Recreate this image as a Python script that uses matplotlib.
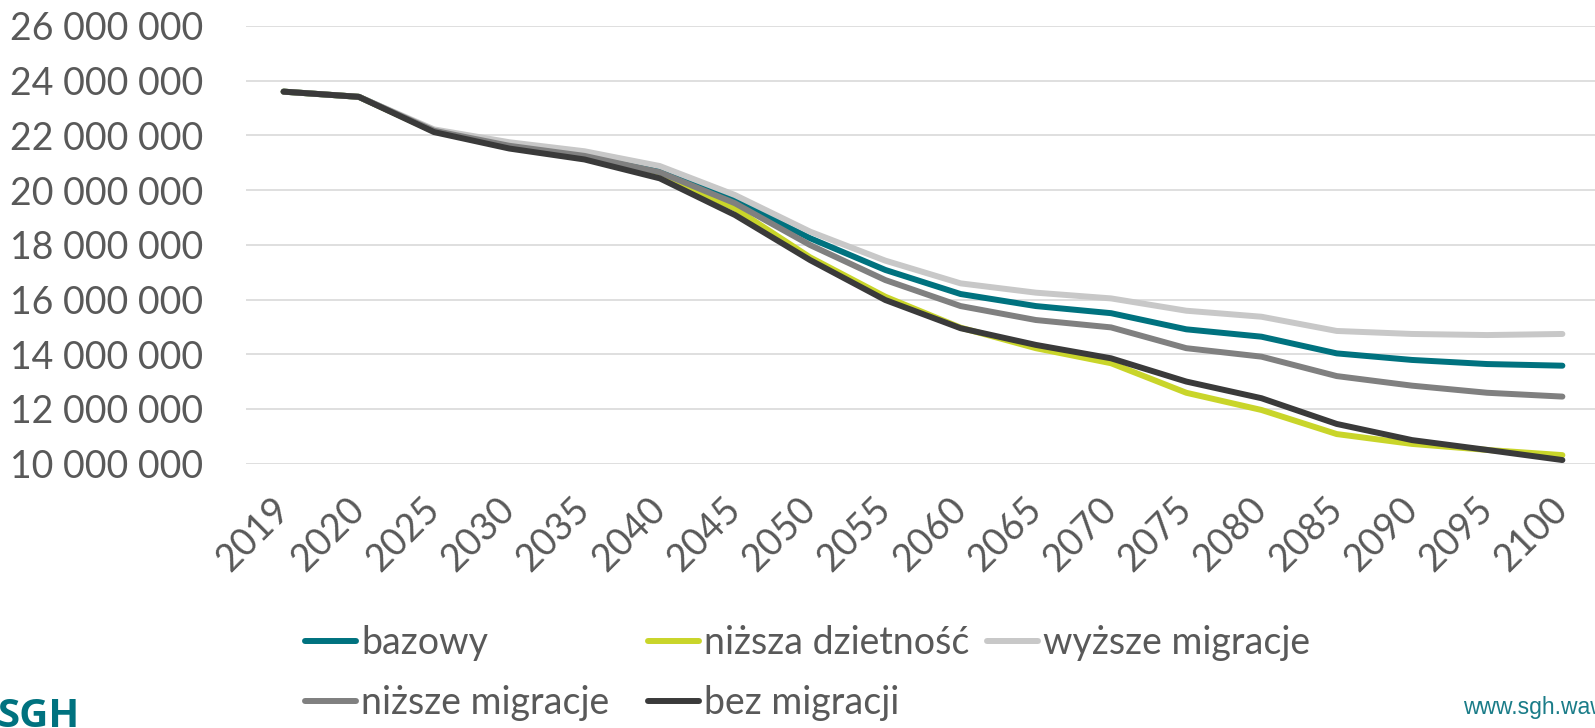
import numpy as np
import matplotlib
matplotlib.use("Agg")
import matplotlib.pyplot as plt
from matplotlib.ticker import FuncFormatter

plt.rcParams['font.family'] = ['Lato', 'DejaVu Sans']

years = ["2019", "2020", "2025", "2030", "2035", "2040", "2045", "2050", "2055",
         "2060", "2065", "2070", "2075", "2080", "2085", "2090", "2095", "2100"]

# ludnosc w mln
bazowy = [23.60, 23.41, 22.17, 21.65, 21.30, 20.70, 19.64, 18.24, 17.08,
          16.20, 15.76, 15.50, 14.91, 14.64, 14.03, 13.79, 13.64, 13.58]
nizsza_dzietnosc = [23.60, 23.41, 22.15, 21.60, 21.25, 20.60, 19.33, 17.54, 16.10,
                    14.97, 14.22, 13.67, 12.59, 11.96, 11.08, 10.72, 10.50, 10.31]
wyzsze_migracje = [23.60, 23.41, 22.22, 21.75, 21.42, 20.88, 19.82, 18.48, 17.42,
                   16.59, 16.25, 16.04, 15.59, 15.37, 14.85, 14.74, 14.70, 14.74]
nizsze_migracje = [23.60, 23.41, 22.17, 21.62, 21.25, 20.65, 19.52, 17.99, 16.71,
                   15.76, 15.25, 14.98, 14.22, 13.91, 13.20, 12.85, 12.59, 12.45]
bez_migracji = [23.60, 23.41, 22.12, 21.52, 21.12, 20.43, 19.09, 17.44, 15.98,
                14.95, 14.34, 13.85, 13.00, 12.39, 11.45, 10.86, 10.50, 10.13]

series = [
    ("bazowy", bazowy, "#00727F"),
    ("niższa dzietność", nizsza_dzietnosc, "#C9D52A"),
    ("wyższe migracje", wyzsze_migracje, "#C8C8C8"),
    ("niższe migracje", nizsze_migracje, "#808080"),
    ("bez migracji", bez_migracji, "#3A3A3A"),
]

text_color = "#595959"
W, H = 1595, 728
fig = plt.figure(figsize=(W / 100, H / 100), dpi=100)
ax = fig.add_axes([246 / W, 1 - 463.6 / H, 1354 / W, 437.6 / H])

x = np.arange(len(years))
lines = {}
for name, vals, color in series:
    ln, = ax.plot(x, np.array(vals) * 1e6, color=color, lw=4.3,
                  solid_capstyle='round', solid_joinstyle='round', label=name)
    lines[name] = ln

ax.set_xlim(-0.5, len(years) - 0.5)
ax.set_ylim(10e6, 26e6)
ax.set_yticks(np.arange(10e6, 26e6 + 1, 2e6))
ax.yaxis.set_major_formatter(FuncFormatter(lambda v, p: f"{int(v):,}".replace(",", " ")))
ax.set_xticks(x)
ax.set_xticklabels(years, rotation=45, ha='right', va='center', rotation_mode='anchor')
ax.tick_params(axis='both', length=0, labelsize=27, colors=text_color)
ax.tick_params(axis='y', pad=31)
ax.tick_params(axis='x', pad=29)
ax.grid(axis='y', color='#D9D9D9', lw=1.2)
ax.set_axisbelow(True)
for s in ax.spines.values():
    s.set_visible(False)

# legenda w trzech kolumnach o rownej szerokosci
cols = [["bazowy", "niższe migracje"], ["niższa dzietność", "bez migracji"], ["wyższe migracje"]]
col_x = [305, 648, 987]
for names, cx in zip(cols, col_x):
    leg = fig.legend(handles=[lines[n] for n in names], labels=names,
                     loc='upper left', bbox_to_anchor=(cx / W, 1 - 625 / H),
                     frameon=False, fontsize=27, handlelength=1.36,
                     handletextpad=0.13, borderpad=0, borderaxespad=0,
                     labelspacing=0.64)
    for t in leg.get_texts():
        t.set_color(text_color)

fig.text(-3 / W, 1 - 697 / H, "SGH", color="#00727F", fontsize=29,
         fontweight='bold', family=['Open Sans', 'DejaVu Sans'], va='top', ha='left')
fig.text(1463 / W, 1 - 714 / H, "www.sgh.waw.pl", color="#1A7C88", fontsize=16.5,
         family=['Liberation Sans', 'DejaVu Sans'], va='baseline', ha='left')

fig.savefig("out.png", dpi=100)
